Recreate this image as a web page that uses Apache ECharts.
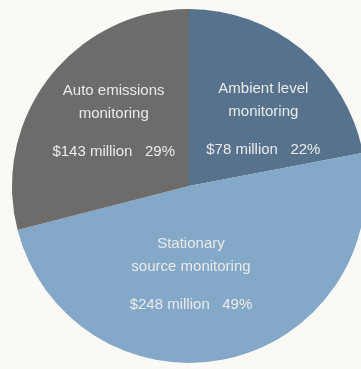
<!DOCTYPE html>
<html>
<head>
<meta charset="utf-8">
<script src="https://cdn.jsdelivr.net/npm/echarts@6/dist/echarts.min.js"></script>
<style>
  html, body { margin: 0; padding: 0; background: #faf9f6; }
  #chart { width: 361px; height: 369px; }
</style>
</head>
<body>
<div id="chart"></div>
<script>
// Monitoring spending by category (clockwise from 12 o'clock)
const categories = ['Ambient level\nmonitoring', 'Stationary\nsource monitoring', 'Auto emissions\nmonitoring'];
const shares = [22, 49, 29];            // percent of total
const amounts = ['$78 million', '$248 million', '$143 million'];
const colors = ['#56728c', '#83a8c8', '#6d6c6b'];
// fine-tuning of where each label block sits inside its slice
const labelShift = [[16, 4], [-18, -1], [-3, -9]];

const chart = echarts.init(document.getElementById('chart'), null, { renderer: 'canvas' });

const data = categories.map((name, i) => ({
  name: name,
  value: shares[i],
  itemStyle: { color: colors[i] }
}));

const textFont = '"Liberation Sans", Arial, sans-serif';

chart.setOption({
  backgroundColor: '#faf9f6',
  animation: false,
  series: [{
    type: 'pie',
    center: [189, 186],
    radius: [0, 177],
    startAngle: 90,
    clockwise: true,
    data: data,
    itemStyle: { borderWidth: 0 },
    emphasis: { disabled: true },
    label: {
      show: true,
      position: 'inside',
      formatter: function (p) {
        const i = p.dataIndex;
        return '{n|' + categories[i].replace('\n', '}\n{n|') + '}\n{g|}\n{v|' + amounts[i] + '   ' + shares[i] + '%}';
      },
      rich: {
        n: { fontFamily: textFont, fontSize: 15, lineHeight: 23, color: '#ebebea', align: 'center' },
        g: { fontSize: 10, lineHeight: 15 },
        v: { fontFamily: textFont, fontSize: 15, lineHeight: 23, color: '#ebebea', align: 'center' }
      }
    },
    labelLine: { show: false },
    labelLayout: function (params) {
      const s = labelShift[params.dataIndex];
      return { dx: s[0], dy: s[1] };
    }
  }]
});
</script>
</body>
</html>
